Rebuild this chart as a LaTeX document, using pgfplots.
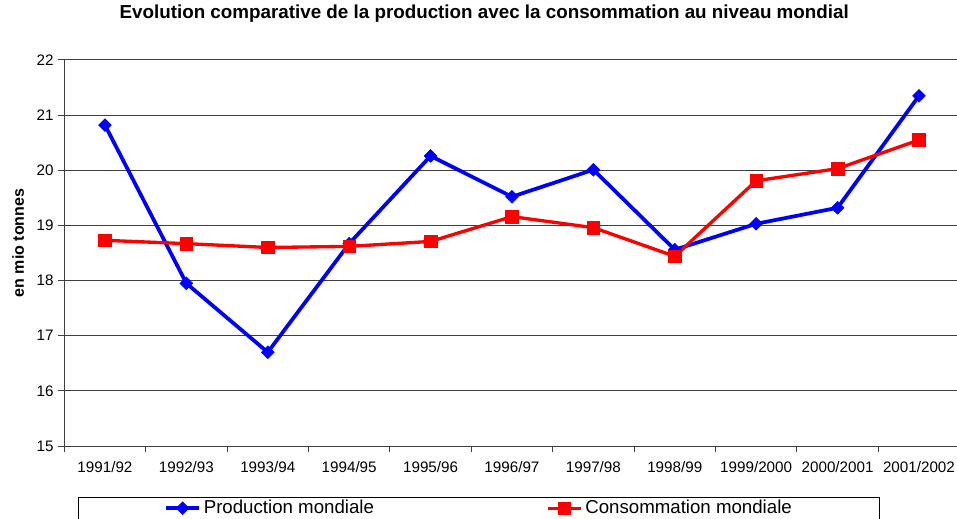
\documentclass[border=0pt]{standalone}
\usepackage{fontspec}
\setmainfont{Liberation Sans}
\usepackage{pgfplots}
\pgfplotsset{compat=1.18}
\begin{document}
\begin{tikzpicture}
\begin{axis}[
  name=ax,
  scale only axis,
  width=671.5pt, height=289.5pt,
  xmin=-0.5, xmax=10.5, ymin=15, ymax=22,
  ytick={15,...,22},
  xtick={0,...,10},
  xticklabels={1991/92,1992/93,1993/94,1994/95,1995/96,1996/97,1997/98,1998/99,1999/2000,2000/2001,2001/2002},
  minor xtick={-0.5,0.5,...,10.5},
  minor ytick={15,...,22},
  major tick length=0pt,
  minor tick length=4.5pt,
  tick align=outside,
  axis x line*=bottom, axis y line*=left,
  axis line style={black!75, line width=0.75pt},
  every tick/.style={black!75, line width=0.75pt},
  minor tick style={black!75, line width=0.75pt},
  ymajorgrids,
  major grid style={black!75, line width=0.75pt},
  /pgf/number format/assume math mode=true,
  ticklabel style={font=\fontsize{11.4}{13}\selectfont},
  xticklabel style={anchor=center, yshift=-15.75pt},
  yticklabel style={anchor=east, xshift=-4.5pt},
  title={Evolution comparative de la production avec la consommation au niveau mondial},
  title style={at={(0.469,1)}, anchor=center, yshift=28.5pt, font=\bfseries\fontsize{14.1}{16}\selectfont},
  ylabel={en mio tonnes},
  ylabel style={at={(axis description cs:-0.0514,0.526)}, anchor=center, font=\bfseries\fontsize{12}{14}\selectfont},
  legend columns=2,
  legend cell align=left,
  legend image code/.code={\draw[mark repeat=2,mark phase=2,#1] plot coordinates {(0pt,0pt) (12.5pt,0pt) (25pt,0pt)};},
  legend style={at={(axis description cs:0.0156,-0.131)}, anchor=north west, draw=black, line width=0.75pt,
    inner xsep=64pt, inner ysep=0.5pt, font=\fontsize{14}{16}\selectfont,
    /tikz/every even column/.append style={column sep=127pt}},
  clip=false,
]
\addplot[color={rgb,255:red,0;green,0;blue,255}, line width=2.8pt, mark=square*, mark size=3.4pt,
  mark options={rotate=45, line width=0.4pt, solid}]
  coordinates {(0,20.82) (1,17.95) (2,16.70) (3,18.67) (4,20.26) (5,19.52) (6,20.01) (7,18.56) (8,19.03) (9,19.32) (10,21.35)};
\addlegendentry{Production mondiale}
\addplot[color={rgb,255:red,255;green,0;blue,0}, line width=2.5pt, mark=square*, mark size=4.7pt,
  mark options={line width=0.4pt, solid}]
  coordinates {(0,18.73) (1,18.67) (2,18.60) (3,18.62) (4,18.71) (5,19.16) (6,18.96) (7,18.44) (8,19.81) (9,20.03) (10,20.55)};
\addlegendentry{Consommation mondiale}
\end{axis}
\pgfresetboundingbox
\path[use as bounding box] ([xshift=-48.2pt, yshift=-54pt]ax.south west) rectangle ([xshift=-2pt, yshift=45pt]ax.north east);
\end{tikzpicture}
\end{document}
